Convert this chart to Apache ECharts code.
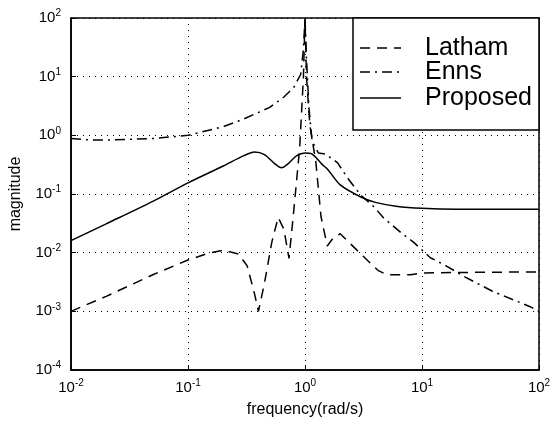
<!DOCTYPE html>
<html>
<head>
<meta charset="utf-8">
<script src="https://cdn.jsdelivr.net/npm/echarts@6/dist/echarts.min.js"></script>
<style>
html,body{margin:0;padding:0;background:#fff;}
#chart{width:555px;height:432px;}
</style>
</head>
<body>
<div id="chart"></div>
<script>
var xTicks = [0.01, 0.1, 1, 10, 100];
var yTicks = [1e-4, 1e-3, 1e-2, 1e-1, 1, 10, 100];

var lathamFreq = [0.01, 0.02, 0.05, 0.1, 0.15, 0.2, 0.27, 0.32, 0.37, 0.4, 0.45, 0.52, 0.59, 0.66, 0.73, 0.8, 0.9, 0.97, 1.0, 1.03, 1.1, 1.24, 1.37, 1.55, 1.75, 2.0, 3.0, 4.2, 5.0, 8.0, 10, 20, 100];
var lathamMag  = [0.001, 0.0018, 0.0042, 0.0075, 0.0098, 0.011, 0.0095, 0.006, 0.002, 0.001, 0.003, 0.015, 0.04, 0.025, 0.008, 0.05, 0.6, 10, 100, 10, 1.5, 0.34, 0.041, 0.013, 0.018, 0.021, 0.0095, 0.005, 0.0042, 0.0042, 0.0045, 0.0046, 0.0047];

var ennsFreq = [0.01, 0.015, 0.02, 0.05, 0.1, 0.2, 0.3, 0.5, 0.66, 0.8, 0.92, 0.97, 1.0, 1.03, 1.08, 1.15, 1.3, 1.5, 1.9, 2.3, 3.0, 3.9, 4.7, 6.6, 8.5, 11.8, 16.5, 23, 40, 84, 100];
var ennsMag  = [0.88, 0.83, 0.83, 0.88, 1.0, 1.4, 1.9, 3.0, 4.5, 6.5, 11, 30, 100, 20, 3, 0.8, 0.5, 0.48, 0.34, 0.19, 0.095, 0.06, 0.039, 0.022, 0.015, 0.0082, 0.0058, 0.0039, 0.0022, 0.0012, 0.001];

var propFreq = [0.01, 0.02, 0.05, 0.1, 0.2, 0.3, 0.37, 0.45, 0.55, 0.63, 0.72, 0.85, 1.0, 1.15, 1.4, 1.57, 2.0, 3.0, 4.0, 6.0, 10, 20, 100];
var propMag  = [0.016, 0.031, 0.075, 0.155, 0.3, 0.45, 0.52, 0.47, 0.33, 0.28, 0.33, 0.45, 0.5, 0.48, 0.32, 0.26, 0.143, 0.089, 0.072, 0.062, 0.057, 0.055, 0.055];

var seriesNames = ['Latham', 'Enns', 'Proposed'];
var dashTypes = [[10, 7], [10, 5, 2, 5], 'solid'];

function pairs(f, m) { return f.map(function (v, i) { return [v, m[i]]; }); }
function expLabel(v) {
  var e = Math.round(Math.log10(v));
  return '{b|10}{s|' + (e < 0 ? '-' + (-e) : e) + '}';
}
var richLab = {
  b: { fontSize: 15, fontFamily: 'Liberation Sans', color: '#000' },
  s: { fontSize: 10, fontFamily: 'Liberation Sans', color: '#000', verticalAlign: 'bottom', padding: [0, 0, 9, 0] }
};

// legend drawn as graphic
var legendBox = { x: 353, y: 18, w: 186, h: 112 };
var legendRows = [48, 72, 98];
var legendEls = [{
  type: 'rect', shape: { x: legendBox.x, y: legendBox.y, width: legendBox.w, height: legendBox.h },
  style: { fill: '#fff', stroke: '#000', lineWidth: 1.5 }, z: 100
}];
seriesNames.forEach(function (n, i) {
  legendEls.push({
    type: 'line', shape: { x1: 360, y1: legendRows[i], x2: 401, y2: legendRows[i] },
    style: { stroke: '#000', lineWidth: 1.5, lineDash: dashTypes[i] === 'solid' ? null : dashTypes[i] }, z: 101
  });
  legendEls.push({
    type: 'text', x: 425, y: legendRows[i],
    style: { text: n, fontSize: 25, fontFamily: 'Liberation Sans', fill: '#000', textVerticalAlign: 'middle', verticalAlign: 'middle' }, z: 101
  });
});

var chart = echarts.init(document.getElementById('chart'), null, { renderer: 'canvas' });
chart.setOption({
  animation: false,
  backgroundColor: '#fff',
  textStyle: { fontFamily: 'Liberation Sans', color: '#000' },
  grid: { left: 69, right: 16, top: 18, bottom: 62, show: true, borderColor: '#000', borderWidth: 1.5, backgroundColor: 'transparent' },
  xAxis: {
    type: 'log', logBase: 10, min: xTicks[0], max: xTicks[xTicks.length - 1],
    name: 'frequency(rad/s)', nameLocation: 'middle', nameGap: 32,
    nameTextStyle: { fontSize: 16, color: '#000', fontFamily: 'Liberation Sans' },
    axisLine: { lineStyle: { color: '#000', width: 1.5 } },
    axisTick: { inside: true, length: 5, lineStyle: { color: '#000' } },
    minorTick: { show: false },
    splitLine: { show: true, lineStyle: { color: '#000', type: [1, 5], width: 1 } },
    axisLabel: { margin: 8, formatter: expLabel, rich: richLab }
  },
  yAxis: {
    type: 'log', logBase: 10, min: yTicks[0], max: yTicks[yTicks.length - 1],
    name: 'magnitude', nameLocation: 'middle', nameGap: 47,
    nameTextStyle: { fontSize: 16, color: '#000', fontFamily: 'Liberation Sans' },
    axisLine: { lineStyle: { color: '#000', width: 1.5 } },
    axisTick: { inside: true, length: 5, lineStyle: { color: '#000' } },
    splitLine: { show: true, lineStyle: { color: '#000', type: [1, 5], width: 1 } },
    axisLabel: { margin: 10, formatter: expLabel, rich: richLab }
  },
  graphic: legendEls,
  series: [
    { name: seriesNames[0], type: 'line', data: pairs(lathamFreq, lathamMag), showSymbol: false, symbol: 'none',
      lineStyle: { color: '#000', width: 1.5, type: dashTypes[0] }, itemStyle: { color: '#000' } },
    { name: seriesNames[1], type: 'line', data: pairs(ennsFreq, ennsMag), showSymbol: false, symbol: 'none',
      lineStyle: { color: '#000', width: 1.5, type: dashTypes[1] }, itemStyle: { color: '#000' } },
    { name: seriesNames[2], type: 'line', data: pairs(propFreq, propMag), showSymbol: false, symbol: 'none', smooth: 0.3,
      lineStyle: { color: '#000', width: 1.5 }, itemStyle: { color: '#000' } }
  ]
});
</script>
</body>
</html>
